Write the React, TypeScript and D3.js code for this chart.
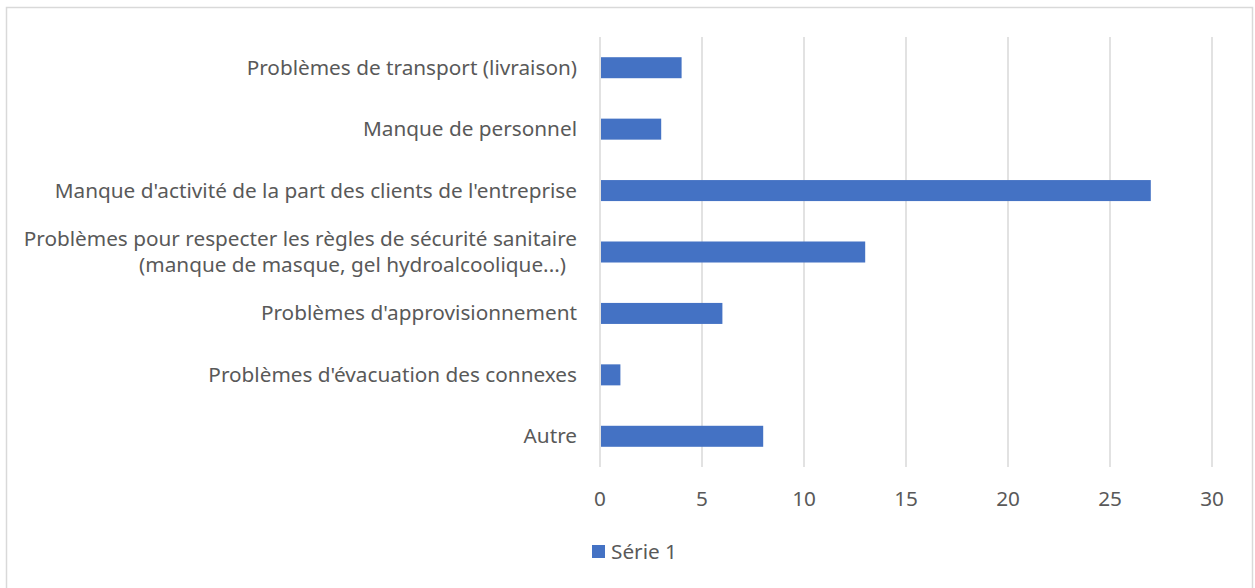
import React, { useRef, useEffect } from "react";
import * as d3 from "d3";

// categories, top to bottom
const categories = [
  "Problèmes de transport (livraison)",
  "Manque de personnel",
  "Manque d'activité de la part des clients de l'entreprise",
  "Problèmes pour respecter les règles de sécurité sanitaire|(manque de masque, gel hydroalcoolique...)",
  "Problèmes d'approvisionnement",
  "Problèmes d'évacuation des connexes",
  "Autre",
];
const serie1 = [4, 3, 27, 13, 6, 1, 8];
const xTicks = [0, 5, 10, 15, 20, 25, 30];
const seriesName = "Série 1";

const W = 1255;
const H = 588;
const FONT = "'Noto Sans', 'Open Sans', sans-serif";
const FS = "20.75px";
const TEXT = "#595959";
const GRID = "#d9d9d9";
const BAR = "#4472c4";

const App = () => {
  const container = useRef<SVGSVGElement>(null);

  useEffect(() => {
    const svg = d3.select(container.current);
    svg.selectAll("*").remove();

    // plot area
    const left = 600, right = 1212, top = 37, bottom = 467;

    const x = d3.scaleLinear().domain([0, 30]).range([left, right]);
    const y = d3
      .scaleBand()
      .domain(categories)
      .range([top, bottom])
      .paddingInner(0.658)
      .paddingOuter(0.329);

    // chart border
    svg
      .append("rect")
      .attr("x", 6.5)
      .attr("y", 7.5)
      .attr("width", 1246)
      .attr("height", 590)
      .attr("fill", "white")
      .attr("stroke", GRID)
      .attr("stroke-width", 1.5);

    // gridlines
    svg
      .append("g")
      .selectAll("line")
      .data(xTicks)
      .enter()
      .append("line")
      .attr("x1", d => x(d))
      .attr("x2", d => x(d))
      .attr("y1", top)
      .attr("y2", bottom)
      .attr("stroke", GRID)
      .attr("stroke-width", 1.5);

    // bars
    svg
      .append("g")
      .selectAll("rect")
      .data(serie1)
      .enter()
      .append("rect")
      .attr("x", x(0) + 1)
      .attr("y", (d, i) => y(categories[i])!)
      .attr("width", d => x(d) - x(0) - 1)
      .attr("height", y.bandwidth())
      .attr("fill", BAR);

    // tick labels
    svg
      .append("g")
      .selectAll("text")
      .data(xTicks)
      .enter()
      .append("text")
      .attr("x", d => x(d))
      .attr("y", 506)
      .attr("text-anchor", "middle")
      .style("font-family", FONT)
      .style("font-size", FS)
      .style("fill", TEXT)
      .text(d => d);

    // category labels (second line of the wrapped label sits a bit inward)
    const labels = svg
      .append("g")
      .selectAll("text")
      .data(categories)
      .enter()
      .append("text")
      .attr("text-anchor", "end")
      .style("font-family", FONT)
      .style("font-size", FS)
      .style("fill", TEXT);

    labels.each(function (d) {
      const t = d3.select(this);
      const lines = d.split("|");
      const cy = y(d)! + y.bandwidth() / 2;
      lines.forEach((ln, i) => {
        t.append("tspan")
          .attr("x", left - 23 - (i > 0 ? 11 : 0))
          .attr("y", cy + 7 + (i - (lines.length - 1) / 2) * 26)
          .text(ln);
      });
    });

    // legend
    const legend = svg.append("g");
    legend
      .append("rect")
      .attr("x", 592)
      .attr("y", 545)
      .attr("width", 13)
      .attr("height", 13)
      .attr("fill", BAR);
    legend
      .append("text")
      .attr("x", 611)
      .attr("y", 558.5)
      .style("font-family", FONT)
      .style("font-size", FS)
      .style("fill", TEXT)
      .text(seriesName);
  }, []);

  return (
    <div style={{ position: "absolute", left: 0, top: 0, width: W, height: H }}>
      <svg ref={container} width={W} height={H} style={{ display: "block" }} />
    </div>
  );
};

export default App;
